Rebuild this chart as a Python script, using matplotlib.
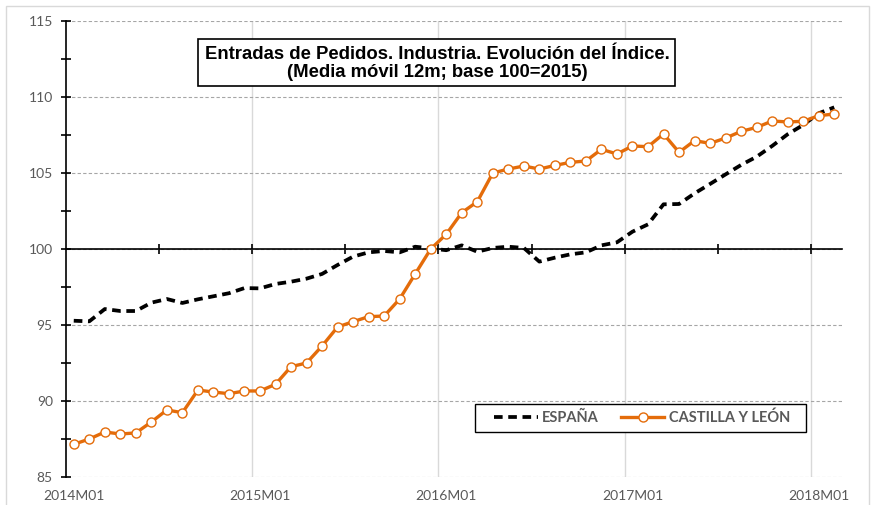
import matplotlib
matplotlib.use('Agg')
import matplotlib.pyplot as plt
from matplotlib.patches import Rectangle
from matplotlib.ticker import MultipleLocator
import numpy as np

plt.rcParams["font.family"] = "Lato"

# monthly categories 2014M01 .. 2018M02
months = ['%dM%02d' % (y, m) for y in range(2014, 2019) for m in range(1, 13)][:50]
tick_labels = ['2014M01', '2015M01', '2016M01', '2017M01', '2018M01']

espana = [95.28, 95.24, 96.05, 95.92, 95.92, 96.47, 96.71, 96.45, 96.69, 96.89,
          97.09, 97.43, 97.41, 97.70, 97.85, 98.05, 98.36, 98.95, 99.50, 99.78,
          99.87, 99.78, 100.15, 100.04, 99.92, 100.24, 99.82, 100.07, 100.15, 100.07,
          99.17, 99.43, 99.65, 99.78, 100.24, 100.44, 101.14, 101.62, 102.94, 102.96,
          103.66, 104.28, 104.91, 105.53, 106.07, 106.78, 107.55, 108.16, 108.93, 109.32]

cyl = [87.15, 87.50, 87.96, 87.83, 87.90, 88.62, 89.41, 89.23, 90.72, 90.59,
       90.48, 90.66, 90.66, 91.10, 92.26, 92.50, 93.62, 94.87, 95.22, 95.55,
       95.59, 96.71, 98.36, 100.00, 100.97, 102.39, 103.11, 105.00, 105.26, 105.46,
       105.26, 105.50, 105.70, 105.79, 106.56, 106.25, 106.78, 106.73, 107.57, 106.36,
       107.13, 106.95, 107.30, 107.74, 108.00, 108.42, 108.36, 108.40, 108.77, 108.88]

ORANGE = '#E46C0A'
GREY_TXT = '#595959'

fig = plt.figure(figsize=(8.75, 5.05), dpi=100)
ax = fig.add_axes([66/875, 1-477/505, 776/875, 456/505])

x = np.arange(len(months))
ax.plot(x, espana, color='black', lw=2.7, linestyle=(0, (2.3, 1.5)), label='ESPAÑA', zorder=4)
ax.plot(x, cyl, color=ORANGE, lw=2.4, marker='o', ms=6.5, mfc='white', mec=ORANGE, mew=1.0,
        label='CASTILLA Y LEÓN', zorder=5)

ax.set_xlim(-0.5, len(months) - 0.5)
ax.set_ylim(85, 115)

# y axis
ax.yaxis.set_major_locator(MultipleLocator(5))
ax.yaxis.set_minor_locator(MultipleLocator(2.5))
ax.tick_params(axis='y', which='both', direction='inout', length=7, width=1.2, colors='black',
               labelcolor=GREY_TXT, labelsize=10, pad=6)
ax.yaxis.grid(True, which='major', color='#a6a6a6', lw=0.8, linestyle=(0, (3, 2)))

# x axis line crosses at 100, labels at the bottom
ax.spines['bottom'].set_position(('data', 100))
ax.spines['bottom'].set_linewidth(1.2)
ax.spines['left'].set_linewidth(1.2)
ax.spines['top'].set_visible(False)
ax.spines['right'].set_visible(False)
ax.set_xticks(np.arange(5.5, len(months), 6))
ax.tick_params(axis='x', direction='inout', length=7, width=1.2, labelbottom=False)
for lab in tick_labels[1:]:
    ax.axvline(months.index(lab) - 0.5, color='#d9d9d9', lw=1.0, zorder=0)

sec = ax.secondary_xaxis(0)
sec.set_xticks([months.index(l) for l in tick_labels], tick_labels)
sec.tick_params(length=0, labelsize=10, labelcolor=GREY_TXT, pad=9)
sec.spines['bottom'].set_visible(False)

# title box
fig.patches.append(Rectangle((198/875, 1-86/505), 477/875, 47/505, transform=fig.transFigure,
                             facecolor='white', edgecolor='black', lw=1.2, zorder=10))
fig.text(437/875, 1-63.5/505, 'Entradas de Pedidos. Industria. Evolución del Índice.\n(Media móvil 12m; base 100=2015)',
         ha='center', va='center', fontsize=13.3, fontweight='bold', family='Liberation Sans',
         linespacing=1.12, zorder=11)

# legend box drawn by hand, entries without frame
ax.add_patch(Rectangle((475/875, 1-432/505), 331/875, 28/505, transform=fig.transFigure,
                       facecolor='white', edgecolor='black', lw=1.0, zorder=11, clip_on=False))
leg = ax.legend(loc='center', bbox_to_anchor=(642/875, 1-418/505), bbox_transform=fig.transFigure,
                ncol=2, frameon=False, handlelength=3.0, columnspacing=1.5, handletextpad=0.3,
                prop={'family': 'Lato', 'weight': 'bold', 'size': 10.5})
for t in leg.get_texts():
    t.set_color(GREY_TXT)
leg.set_zorder(12)

# chart area border
fig.patches.append(Rectangle((6/875, -0.01), 863/875, 1-6/505+0.01, transform=fig.transFigure,
                             facecolor='none', edgecolor='#d9d9d9', lw=1.0))

fig.savefig('out.png', dpi=100)
